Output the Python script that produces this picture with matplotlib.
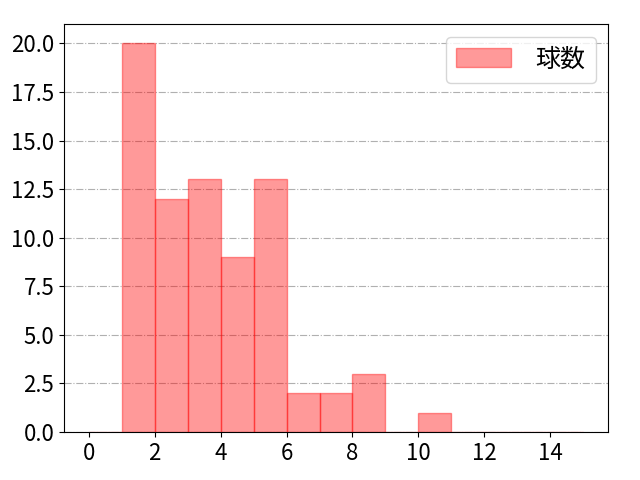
import numpy as np
import matplotlib.pyplot as plt

plt.rcParams['font.family'] = ['Noto Sans CJK JP', 'DejaVu Sans']
plt.rcParams['font.size'] = 16

bin_edges = list(range(0, 16))
counts = [0, 20, 12, 13, 9, 13, 2, 2, 3, 0, 1, 0, 0, 0, 0]

fig, ax = plt.subplots(figsize=(6.4, 4.8), dpi=100)
fig.subplots_adjust(left=0.1, right=0.95, top=0.95, bottom=0.1)
ax.hist(bin_edges[:-1], bins=bin_edges, weights=counts, color='red', alpha=0.4,
        edgecolor='red', linewidth=1, label='球数')
ax.set_xticks(np.arange(0, 15, 2))
ax.grid(axis='y', linestyle='-.', color='#b0b0b0')
ax.set_axisbelow(True)
ax.legend(loc='upper right', fontsize=18, handlelength=2.2, handleheight=0.8,
          handletextpad=1.0, borderaxespad=0.5)
plt.savefig('out.png')
